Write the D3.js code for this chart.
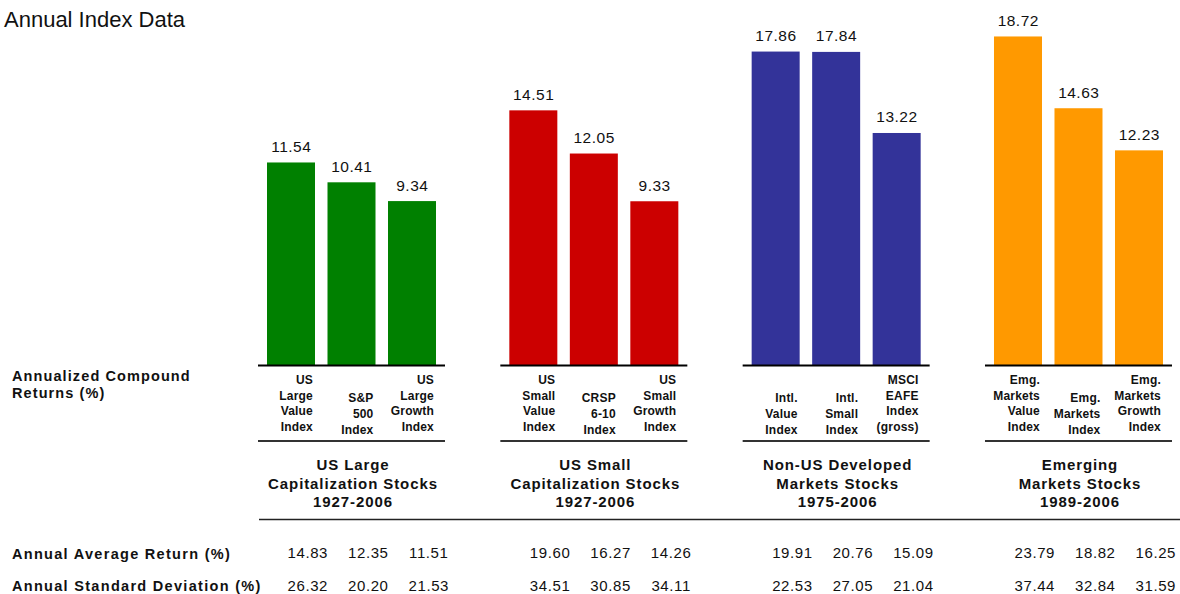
<!DOCTYPE html>
<html>
<head>
<meta charset="utf-8">
<script src="https://cdn.jsdelivr.net/npm/d3@7"></script>
<style>
  html, body { margin: 0; padding: 0; background: #fff; }
  svg { display: block; font-family: Arial, "Liberation Sans", Helvetica, sans-serif; }
</style>
</head>
<body>
<svg id="chart" width="1180" height="594"></svg>
<script>
// ---- data ----
const groups = ["US Large Cap", "US Small Cap", "Non-US Developed", "Emerging Markets"];
const groupTitles = [
  ["US Large", "Capitalization  Stocks", "1927-2006"],
  ["US Small", "Capitalization  Stocks", "1927-2006"],
  ["Non-US Developed", "Markets Stocks", "1975-2006"],
  ["Emerging", "Markets Stocks", "1989-2006"]
];
const groupColors = ["#008000", "#CC0000", "#333399", "#FF9900"];
const indexLabels = [
  [["US", "Large", "Value", "Index"], ["S&P", "500", "Index"], ["US", "Large", "Growth", "Index"]],
  [["US", "Small", "Value", "Index"], ["CRSP", "6-10", "Index"], ["US", "Small", "Growth", "Index"]],
  [["Intl.", "Value", "Index"], ["Intl.", "Small", "Index"], ["MSCI", "EAFE", "Index", "(gross)"]],
  [["Emg.", "Markets", "Value", "Index"], ["Emg.", "Markets", "Index"], ["Emg.", "Markets", "Growth", "Index"]]
];
const compoundReturns = [
  [11.54, 10.41, 9.34],
  [14.51, 12.05, 9.33],
  [17.86, 17.84, 13.22],
  [18.72, 14.63, 12.23]
];
const averageReturns = [
  [14.83, 12.35, 11.51],
  [19.60, 16.27, 14.26],
  [19.91, 20.76, 15.09],
  [23.79, 18.82, 16.25]
];
const stdDeviations = [
  [26.32, 20.20, 21.53],
  [34.51, 30.85, 34.11],
  [22.53, 27.05, 21.04],
  [37.44, 32.84, 31.59]
];
const yTicks = [0, 20];

// ---- layout ----
const svg = d3.select("#chart");
const baseY = 365;
const y = d3.scaleLinear().domain(yTicks).range([baseY, 14]);
const groupStep = 242.33;
const x0 = d3.scaleBand().domain(groups).range([258, 258 + groupStep * groups.length]).padding(0);
const x1 = d3.scaleBand().domain([0, 1, 2]).range([2.75, 184.25]).paddingInner(0.2066).paddingOuter(0.1033);
const lineLen = 187;

// title
svg.append("text").attr("x", 4).attr("y", 27)
  .attr("font-size", 22).attr("fill", "#111")
  .text("Annual Index Data");

// left row labels
const leftLab = svg.append("text").attr("x", 12).attr("font-size", 14.5).attr("font-weight", "bold")
  .attr("letter-spacing", 1.1).attr("fill", "#111");
leftLab.append("tspan").attr("x", 12).attr("y", 381).text("Annualized  Compound");
leftLab.append("tspan").attr("x", 12).attr("y", 398).text("Returns (%)");

const g = svg.selectAll("g.grp").data(groups).join("g")
  .attr("class", "grp")
  .attr("transform", d => `translate(${x0(d)},0)`);

g.each(function(gName, gi) {
  const sel = d3.select(this);
  const vals = compoundReturns[gi];
  sel.selectAll("rect").data(vals).join("rect")
    .attr("x", (d, i) => x1(i))
    .attr("width", x1.bandwidth())
    .attr("y", d => y(d))
    .attr("height", d => y(0) - y(d))
    .attr("fill", groupColors[gi]);

  sel.selectAll("text.val").data(vals).join("text")
    .attr("class", "val")
    .attr("x", (d, i) => x1(i) + x1.bandwidth() / 2 + 0.3)
    .attr("y", d => y(d) - 10.5)
    .attr("text-anchor", "middle")
    .attr("font-size", 15.5).attr("letter-spacing", 0.5).attr("fill", "#111")
    .text(d => d.toFixed(2));

  // baseline
  sel.append("line").attr("x1", 0).attr("x2", lineLen).attr("y1", baseY + 0.5).attr("y2", baseY + 0.5)
    .attr("stroke", "#000").attr("stroke-width", 2.2);

  // index labels
  indexLabels[gi].forEach((lines, i) => {
    const t = sel.append("text")
      .attr("text-anchor", "end")
      .attr("font-size", 12).attr("font-weight", "bold")
      .attr("letter-spacing", 0.2).attr("fill", "#111");
    const step = 15.7;
    const n = lines.length;
    const last = n === 4 ? 431 : 433.5;
    lines.forEach((ln, k) => {
      t.append("tspan")
        .attr("x", x1(i) + x1.bandwidth() - 2)
        .attr("y", last - (n - 1 - k) * step)
        .text(ln);
    });
  });

  // second line
  sel.append("line").attr("x1", 0).attr("x2", lineLen).attr("y1", 441).attr("y2", 441)
    .attr("stroke", "#333").attr("stroke-width", 2.2);

  // group title
  const tt = sel.append("text").attr("text-anchor", "middle")
    .attr("font-size", 15).attr("font-weight", "bold").attr("letter-spacing", 0.9).attr("fill", "#111");
  groupTitles[gi].forEach((ln, k) => {
    tt.append("tspan").attr("x", lineLen / 2 + 1.5).attr("y", 470 + k * 18.5).text(ln);
  });

  // stats
  const statX = i => x1(i) + x1.bandwidth() / 2 + 16.8;
  sel.selectAll("text.avg").data(averageReturns[gi]).join("text")
    .attr("class", "avg")
    .attr("x", (d, i) => statX(i)).attr("y", 558)
    .attr("text-anchor", "middle").attr("font-size", 15).attr("letter-spacing", 0.6).attr("fill", "#111")
    .text(d => d.toFixed(2));
  sel.selectAll("text.sd").data(stdDeviations[gi]).join("text")
    .attr("class", "sd")
    .attr("x", (d, i) => statX(i)).attr("y", 590.5)
    .attr("text-anchor", "middle").attr("font-size", 15).attr("letter-spacing", 0.6).attr("fill", "#111")
    .text(d => d.toFixed(2));
});

// bottom separator
svg.append("line").attr("x1", 259).attr("x2", 1180).attr("y1", 519.5).attr("y2", 519.5)
  .attr("stroke", "#222").attr("stroke-width", 1.6);

// stats row labels
svg.append("text").attr("x", 12).attr("y", 558.5).attr("font-size", 14.5).attr("font-weight", "bold")
  .attr("letter-spacing", 1.3).attr("fill", "#111").text("Annual  Average  Return (%)");
svg.append("text").attr("x", 12).attr("y", 590.5).attr("font-size", 14.5).attr("font-weight", "bold")
  .attr("letter-spacing", 1.3).attr("fill", "#111").text("Annual  Standard  Deviation (%)");
</script>
</body>
</html>
